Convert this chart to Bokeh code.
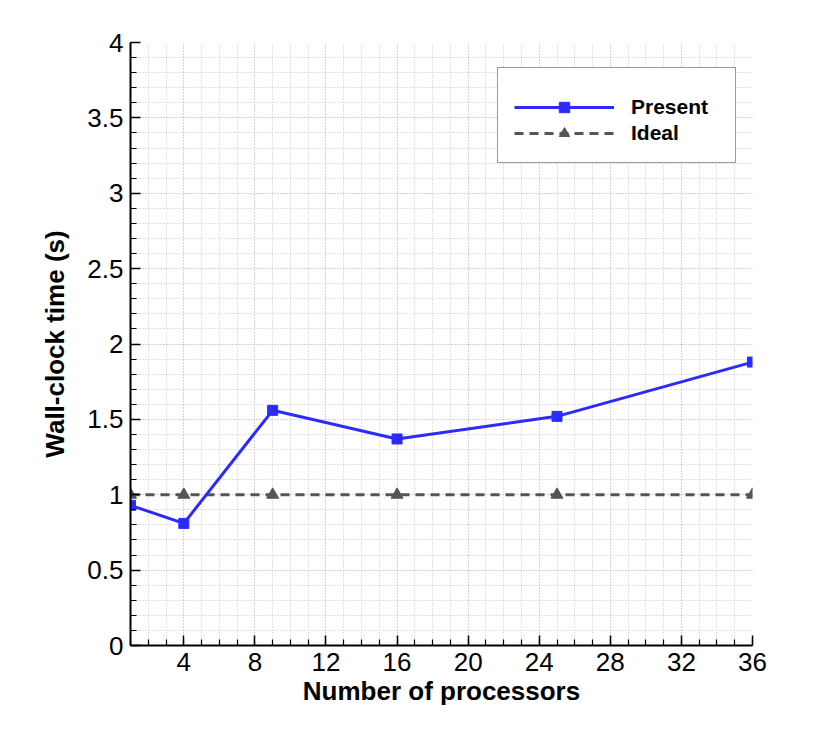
from bokeh.plotting import figure
from bokeh.models import FixedTicker, Legend, LegendItem
from bokeh.embed import file_html
from bokeh.resources import INLINE

# ---- data ----
processors = [1, 4, 9, 16, 25, 36]
present_time = [0.93, 0.81, 1.56, 1.37, 1.52, 1.88]
ideal_time = [1.0, 1.0, 1.0, 1.0, 1.0, 1.0]

x_major_ticks = [4, 8, 12, 16, 20, 24, 28, 32, 36]
x_minor_ticks = list(range(1, 37))
y_major_ticks = [0, 0.5, 1, 1.5, 2, 2.5, 3, 3.5, 4]
y_minor_ticks = [i / 10 for i in range(0, 41)]
y_tick_labels = {0: "0", 0.5: "0.5", 1: "1", 1.5: "1.5", 2: "2",
                 2.5: "2.5", 3: "3", 3.5: "3.5", 4: "4"}

FONT = "Liberation Sans"
BLUE = "#2b2bff"
GRAY = "#555555"

p = figure(width=814, height=725, x_range=(1, 36), y_range=(0, 4),
           output_backend="svg", toolbar_location=None,
           min_border_left=130, min_border_right=62,
           min_border_top=42, min_border_bottom=80)
p.outline_line_color = None
p.background_fill_color = "white"
p.border_fill_color = "white"

xt = FixedTicker(ticks=x_major_ticks, minor_ticks=x_minor_ticks)
yt = FixedTicker(ticks=y_major_ticks, minor_ticks=y_minor_ticks)
p.xaxis.ticker = xt
p.yaxis.ticker = yt
p.xgrid.ticker = xt
p.ygrid.ticker = yt
p.yaxis.major_label_overrides = y_tick_labels

for g in (p.xgrid, p.ygrid):
    g.grid_line_color = "#c4c4c4"
    g.grid_line_dash = "1 2"
    g.grid_line_width = 1
    g.minor_grid_line_color = "#c4c4c4"
    g.minor_grid_line_dash = "1 2"
    g.minor_grid_line_width = 1

for ax in (p.xaxis, p.yaxis):
    ax.axis_line_color = "black"
    ax.axis_line_width = 2
    ax.major_tick_in = 10
    ax.major_tick_out = 0
    ax.minor_tick_in = 6
    ax.minor_tick_out = 0
    ax.major_tick_line_color = "black"
    ax.major_tick_line_width = 1.5
    ax.minor_tick_line_color = "black"
    ax.minor_tick_line_width = 1.2
    ax.major_label_text_font = FONT
    ax.major_label_text_font_size = "26px"
    ax.major_label_text_color = "black"
    ax.axis_label_text_font = FONT
    ax.axis_label_text_font_size = "26px"
    ax.axis_label_text_font_style = "bold"
    ax.axis_label_text_color = "black"
    ax.major_label_standoff = 7

p.xaxis.axis_label = "Number of processors"
p.yaxis.axis_label = "Wall-clock time (s)"
p.xaxis.axis_label_standoff = 2
p.yaxis.axis_label_standoff = 14

# ---- series ----
ideal_line = p.line(processors, ideal_time, line_color=GRAY, line_width=3,
                    line_dash="9 6")
ideal_mark = p.scatter(processors, ideal_time, marker="triangle", size=12,
                       fill_color=GRAY, line_color=GRAY)
present_line = p.line(processors, present_time, line_color=BLUE, line_width=3)
present_mark = p.scatter(processors, present_time, marker="square", size=10,
                         fill_color=BLUE, line_color=BLUE)

legend = Legend(items=[
    LegendItem(label="Present", renderers=[present_line, present_mark]),
    LegendItem(label="Ideal", renderers=[ideal_line, ideal_mark]),
], location=(367, 482))
legend.title = " "
legend.title_text_font_size = "9px"
legend.title_standoff = 0
legend.padding = 16
legend.spacing = 0
legend.margin = 0
legend.glyph_width = 100
legend.glyph_height = 26
legend.label_height = 26
legend.label_width = 88
legend.label_standoff = 17
legend.label_text_font = FONT
legend.label_text_font_size = "21px"
legend.label_text_font_style = "bold"
legend.label_text_color = "black"
legend.border_line_color = "#333333"
legend.border_line_width = 1.5
legend.background_fill_color = "white"
legend.background_fill_alpha = 1.0
p.add_layout(legend, "center")

open("out.html", "w").write(file_html(p, INLINE))
